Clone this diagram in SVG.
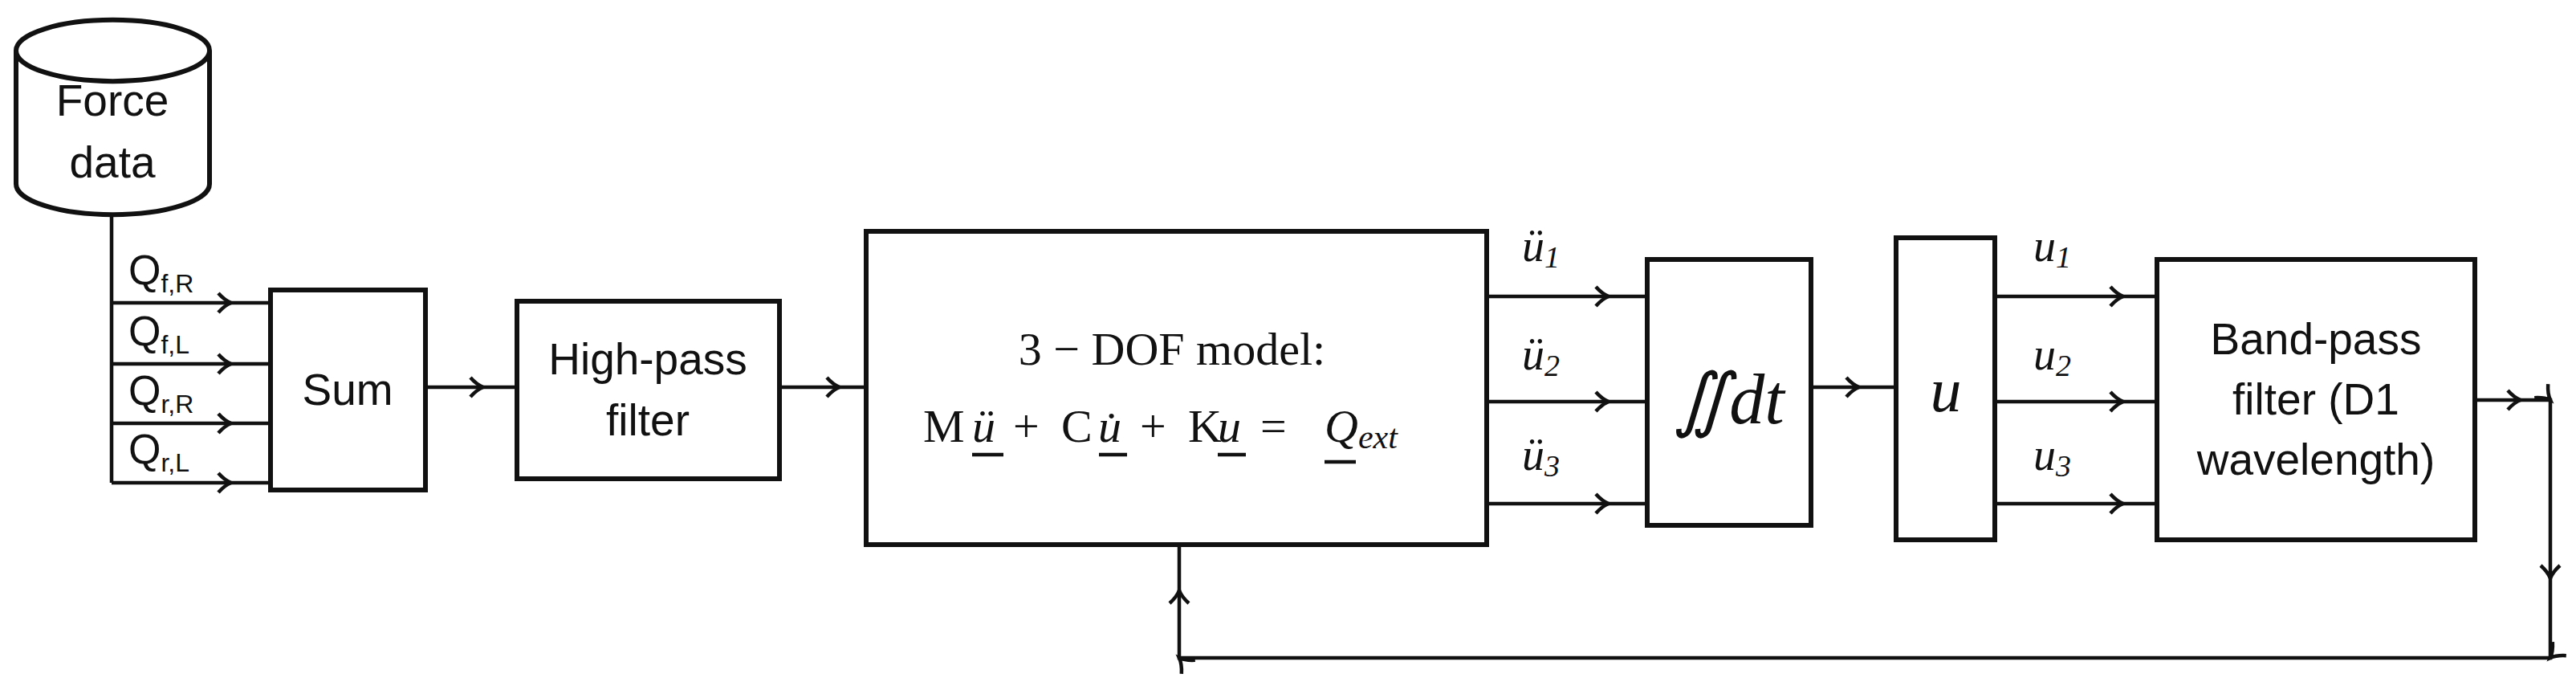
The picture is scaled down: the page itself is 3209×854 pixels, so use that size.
<svg xmlns="http://www.w3.org/2000/svg" width="3209" height="854" viewBox="0 0 3209 854">
<style>
.box{fill:#fff;stroke:#111;stroke-width:6}
.ln{fill:none;stroke:#111;stroke-width:4.5}
.s{font-family:"Liberation Sans Narrow","Liberation Sans",sans-serif;fill:#111;text-anchor:middle}
.m{font-family:"Liberation Serif",serif;fill:#111}
.mi{font-family:"Liberation Serif",serif;font-style:italic;fill:#111}
</style>
<defs>
<marker id="ch" markerWidth="30" markerHeight="30" refX="22" refY="15" orient="auto" markerUnits="userSpaceOnUse">
<path d="M6,3 Q14,12 22,15 Q14,18 6,27" fill="none" stroke="#111" stroke-width="4.5"/>
</marker>
</defs>
<g id="connectors">
<path class="ln" d="M139,267 V601"/>
<path class="ln" d="M139,377 H288 H337" marker-mid="url(#ch)"/>
<path class="ln" d="M139,453 H288 H337" marker-mid="url(#ch)"/>
<path class="ln" d="M139,527 H288 H337" marker-mid="url(#ch)"/>
<path class="ln" d="M139,601 H288 H337" marker-mid="url(#ch)"/>
<path class="ln" d="M530,482 H602 H644" marker-mid="url(#ch)"/>
<path class="ln" d="M971,482 H1046 H1079" marker-mid="url(#ch)"/>
<path class="ln" d="M1852,369 H2004 H2052" marker-mid="url(#ch)"/>
<path class="ln" d="M1852,500 H2004 H2052" marker-mid="url(#ch)"/>
<path class="ln" d="M1852,627 H2004 H2052" marker-mid="url(#ch)"/>
<path class="ln" d="M2256,482 H2316 H2362" marker-mid="url(#ch)"/>
<path class="ln" d="M2485,369 H2645 H2687" marker-mid="url(#ch)"/>
<path class="ln" d="M2485,500 H2645 H2687" marker-mid="url(#ch)"/>
<path class="ln" d="M2485,627 H2645 H2687" marker-mid="url(#ch)"/>
<path class="ln" d="M3083,498 H3140 H3177 V720 V819 H1469 V735 V678" marker-mid="url(#ch)"/>
</g>
<g id="force-data">
<path class="box" d="M20,63 V229 A120,38 0 0 0 261,229 V63 A120,38 0 0 0 20,63 A120,38 0 0 0 261,63"/>
<text class="s" x="140" y="144" font-size="55">Force</text>
<text class="s" x="140" y="221" font-size="55">data</text>
</g>
<g id="labels-q" class="s" style="text-anchor:start" font-size="52">
<text x="160" y="354">Q<tspan font-size="32" dy="10">f,R</tspan></text>
<text x="160" y="430">Q<tspan font-size="32" dy="10">f,L</tspan></text>
<text x="160" y="504">Q<tspan font-size="32" dy="10">r,R</tspan></text>
<text x="160" y="577">Q<tspan font-size="32" dy="10">r,L</tspan></text>
</g>
<g id="sum"><rect class="box" x="337" y="361" width="193" height="249"/>
<text class="s" x="433" y="504" font-size="55">Sum</text></g>
<g id="highpass"><rect class="box" x="644" y="375" width="327" height="221"/>
<text class="s" x="807" y="466" font-size="55">High-pass</text>
<text class="s" x="807" y="542" font-size="55">filter</text></g>
<g id="dof"><rect class="box" x="1079" y="288" width="773" height="390"/>
<text class="m" x="1460" y="454" font-size="58" text-anchor="middle">3 − DOF model:</text>
<text class="m" y="550" font-size="58"><tspan x="1150">M</tspan><tspan class="mi" x="1211">ü</tspan><tspan x="1262">+</tspan><tspan x="1322">C</tspan><tspan class="mi" x="1368">u̇</tspan><tspan x="1420">+</tspan><tspan x="1480">K</tspan><tspan class="mi" x="1517">u</tspan><tspan x="1570">=</tspan><tspan class="mi" x="1650">Q</tspan><tspan class="mi" font-size="42" dy="8">ext</tspan></text>
<path class="ln" d="M1211,566 H1250 M1369,566 H1404 M1517,566 H1552 M1650,575 H1689"/>
</g>
<g id="acc-labels" class="mi" font-size="56">
<text x="1896" y="325">ü<tspan class="m" font-size="38" dy="8">1</tspan></text>
<text x="1896" y="460">ü<tspan class="m" font-size="38" dy="8">2</tspan></text>
<text x="1896" y="585">ü<tspan class="m" font-size="38" dy="8">3</tspan></text>
</g>
<g id="integrator"><rect class="box" x="2052" y="323" width="204" height="331"/>
<text class="mi" x="2154" y="527" font-size="88" text-anchor="middle">∬dt</text></g>
<g id="u-box"><rect class="box" x="2362" y="296" width="123" height="376"/>
<text class="mi" x="2424" y="512" font-size="78" text-anchor="middle">u</text></g>
<g id="u-labels" class="mi" font-size="56">
<text x="2533" y="325">u<tspan class="m" font-size="38" dy="8">1</tspan></text>
<text x="2533" y="460">u<tspan class="m" font-size="38" dy="8">2</tspan></text>
<text x="2533" y="585">u<tspan class="m" font-size="38" dy="8">3</tspan></text>
</g>
<g id="bandpass"><rect class="box" x="2687" y="323" width="396" height="349"/>
<text class="s" x="2885" y="441" font-size="55">Band-pass</text>
<text class="s" x="2885" y="516" font-size="55">filter (D1</text>
<text class="s" x="2885" y="591" font-size="55">wavelength)</text></g>
</svg>
